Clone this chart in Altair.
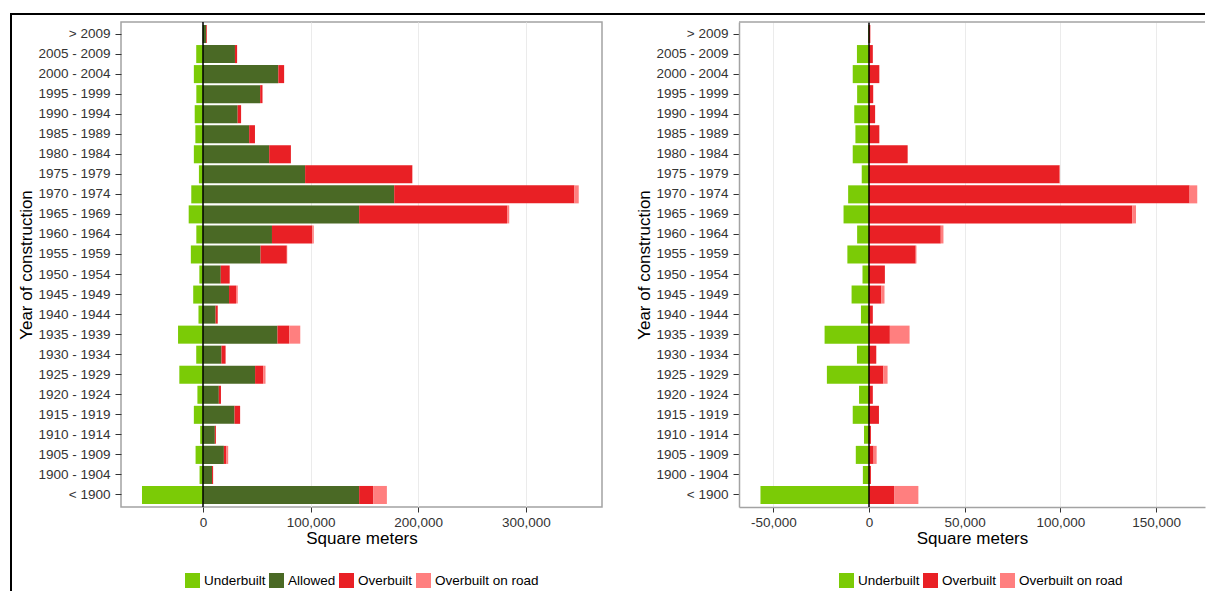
import altair as alt
import pandas as pd

FONT = "Liberation Sans"

categories = ["> 2009", "2005 - 2009", "2000 - 2004", "1995 - 1999", "1990 - 1994",
              "1985 - 1989", "1980 - 1984", "1975 - 1979", "1970 - 1974", "1965 - 1969",
              "1960 - 1964", "1955 - 1959", "1950 - 1954", "1945 - 1949", "1940 - 1944",
              "1935 - 1939", "1930 - 1934", "1925 - 1929", "1920 - 1924", "1915 - 1919",
              "1910 - 1914", "1905 - 1909", "1900 - 1904", "< 1900"]

underbuilt = [-400, -6300, -8500, -6200, -7700, -7100, -8500, -3800, -10900, -13300,
              -6200, -11300, -3400, -9100, -4200, -23200, -6300, -22000, -5200, -8500,
              -2600, -6900, -3200, -56700]
allowed = [2800, 29700, 70000, 53100, 32200, 42900, 61500, 94900, 177700, 145100,
           64100, 53500, 16500, 24200, 11700, 69200, 17200, 48400, 14700, 29300,
           11000, 19400, 8400, 145100]
overbuilt = [700, 2000, 5400, 2200, 3200, 5400, 20200, 99600, 167500, 137500,
             37500, 24400, 8300, 6500, 2000, 10900, 3800, 7500, 2000, 5200,
             1000, 2400, 1000, 13300]
overbuilt_road = [0, 0, 0, 0, 0, 0, 0, 200, 4000, 2000,
                  1400, 400, 0, 1600, 0, 10300, 0, 2200, 0, 0,
                  0, 1600, 0, 12500]

types_left = ["Underbuilt", "Allowed", "Overbuilt", "Overbuilt on road"]
colors_left = ["#7BCB06", "#4A6925", "#E92025", "#FF7F7F"]
types_right = ["Underbuilt", "Overbuilt", "Overbuilt on road"]
colors_right = ["#7BCB06", "#E92025", "#FF7F7F"]

rows = []
for i, c in enumerate(categories):
    rows.append({"category": c, "type": "Underbuilt", "value": underbuilt[i], "ord": 0})
    rows.append({"category": c, "type": "Allowed", "value": allowed[i], "ord": 1})
    rows.append({"category": c, "type": "Overbuilt", "value": overbuilt[i], "ord": 2})
    rows.append({"category": c, "type": "Overbuilt on road", "value": overbuilt_road[i], "ord": 3})
df_left = pd.DataFrame(rows)
df_right = df_left[df_left["type"] != "Allowed"].reset_index(drop=True)

BORDER = "#a3a3a3"
TXT = "#333333"
one_row = alt.Data(values=[{}])


def y_enc(domain_line):
    return alt.Y(
        "category:N", sort=categories, title="Year of construction",
        scale=alt.Scale(paddingInner=0.1, paddingOuter=0.15),
        axis=alt.Axis(labelFontSize=13.5, labelColor=TXT, labelFont=FONT,
                      tickColor=TXT, tickSize=6, labelPadding=5,
                      titleFontSize=17, titleFontWeight="normal", titleColor="#000",
                      titleFont=FONT, titlePadding=2, grid=False,
                      domain=domain_line, domainColor=BORDER, domainWidth=1.5),
    )


def x_enc(domain, values, domain_line):
    return alt.X(
        "value:Q", stack="zero", title="Square meters",
        scale=alt.Scale(domain=domain, nice=False, zero=False),
        axis=alt.Axis(values=values,
                      labelExpr="replace(format(datum.value, ','), '\u2212', '-')",
                      labelFontSize=13.5, labelColor=TXT, labelFont=FONT,
                      tickColor=TXT, tickSize=5, labelPadding=3,
                      titleFontSize=17, titleFontWeight="normal", titleColor="#000",
                      titleFont=FONT, titlePadding=2,
                      grid=True, gridColor="#ebebeb", gridWidth=1,
                      domain=domain_line, domainColor=BORDER, domainWidth=1.5),
    )


def legend(x, y):
    return alt.Legend(orient="none", legendX=x, legendY=y, direction="horizontal",
                      columns=4, title=None, symbolType="square", symbolSize=225,
                      symbolStrokeWidth=0, symbolOpacity=1, labelFontSize=13.5,
                      labelFont=FONT, labelColor="#000", labelOffset=4,
                      columnPadding=3)


# Left panel
bars_left = alt.Chart(df_left).mark_bar().encode(
    y=y_enc(False),
    x=x_enc([-76208, 370818], [0, 100000, 200000, 300000], False),
    color=alt.Color("type:N", scale=alt.Scale(domain=types_left, range=colors_left),
                    legend=legend(64, 551)),
    order=alt.Order("ord:Q"),
)
zero_left = alt.Chart(one_row).mark_rule(color="black", strokeWidth=1.5).encode(x=alt.datum(0))
frame_left_v = alt.Chart(one_row).mark_rule(color="black", strokeWidth=2).encode(
    x=alt.value(-110), y=alt.value(-8), y2=alt.value(570))
frame_left_h = alt.Chart(one_row).mark_rule(color="black", strokeWidth=2, strokeCap="square").encode(
    x=alt.value(-110), x2=alt.value(481), y=alt.value(-8))
left = alt.layer(bars_left, zero_left, frame_left_v, frame_left_h).properties(
    width=481, height=485,
    view=alt.ViewBackground(stroke=BORDER, strokeWidth=1.5),
)

# Right panel
bars_right = alt.Chart(df_right).mark_bar().encode(
    y=y_enc(True),
    x=x_enc([-67920, 175549], [-50000, 0, 50000, 100000, 150000], True),
    color=alt.Color("type:N", scale=alt.Scale(domain=types_right, range=colors_right),
                    legend=legend(100, 551)),
    order=alt.Order("ord:Q"),
)
zero_right = alt.Chart(one_row).mark_rule(color="black", strokeWidth=1.5).encode(x=alt.datum(0))
top_border_right = alt.Chart(one_row).mark_rule(color=BORDER, strokeWidth=1.5).encode(
    x=alt.value(0), x2=alt.value(466), y=alt.value(0))
frame_right_h = alt.Chart(one_row).mark_rule(color="black", strokeWidth=2, strokeCap="square").encode(
    x=alt.value(-142), x2=alt.value(465), y=alt.value(-8))
right = alt.layer(bars_right, zero_right, top_border_right, frame_right_h).properties(
    width=466, height=485,
    view=alt.ViewBackground(stroke="transparent", strokeWidth=0),
)

chart = alt.hconcat(left, right, spacing=-10).resolve_scale(
    color="independent", x="independent"
).resolve_legend(color="independent").properties(
    padding={"left": 0, "top": 3, "right": 0, "bottom": 0},
    background="white",
).configure(font=FONT)

chart.save("out.html", embed_options={"renderer": "svg", "actions": False})
